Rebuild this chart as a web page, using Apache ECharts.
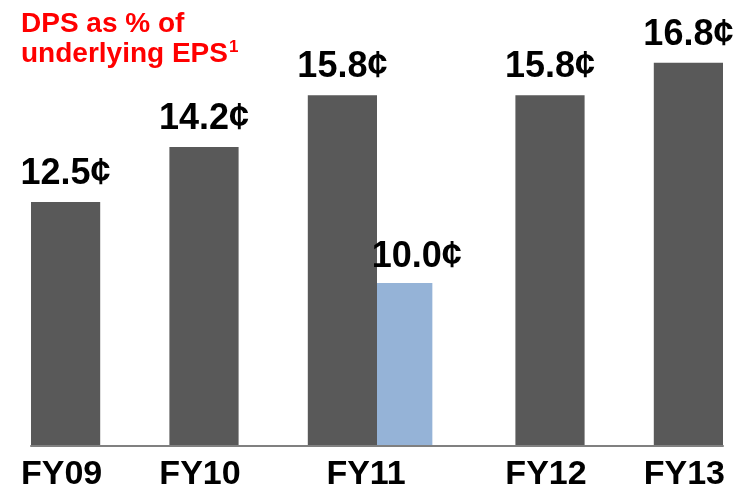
<!DOCTYPE html>
<html>
<head>
<meta charset="utf-8">
<script src="https://cdn.jsdelivr.net/npm/echarts@6/dist/echarts.min.js"></script>
<style>
  html, body { margin: 0; padding: 0; background: #ffffff; }
  #chart { width: 735px; height: 492px; }
</style>
</head>
<body>
<div id="chart"></div>
<script>
// Dividend per share by financial year (cents)
const categories = ['FY09', 'FY10', 'FY11', 'FY12', 'FY13'];
const dps = [12.5, 14.2, 15.8, 15.8, 16.8];
// Additional bar shown beside FY11 only
const extra = [null, null, 10.0, null, null];

// Layout in "slot" units: every bar is one slot wide with one empty slot between groups;
// the additional bar is 0.8 slot wide and sits flush against its neighbour.
const EXTRA_W = 0.8;
const mainPts = [];
const extraPts = [];
const labelPts = [];
let cursor = 0;
categories.forEach((c, i) => {
  const start = cursor;
  mainPts.push([start + 0.5, dps[i]]);
  cursor += 1;
  let end = cursor;
  if (extra[i] != null) {
    extraPts.push([cursor + EXTRA_W / 2, extra[i]]);
    end = cursor + EXTRA_W;
    cursor += 1;
  }
  labelPts.push((start + end) / 2);
  cursor += 1;
});
const slots = cursor - 1;

const gridLeft = 31, gridRight = 12;
const slotPx = (735 - gridLeft - gridRight) / slots;
const FONT = 'Liberation Sans, Arial, sans-serif';

const chart = echarts.init(document.getElementById('chart'), null, { renderer: 'canvas' });

const valueLabel = {
  show: true,
  position: 'top',
  distance: 10,
  fontFamily: FONT,
  fontWeight: 'bold',
  fontSize: 36,
  color: '#000000',
  formatter: p => p.value[1].toFixed(1) + '\u00a2'
};

chart.setOption({
  animation: false,
  backgroundColor: '#ffffff',
  title: {
    left: 16,
    top: 4,
    text: '{a|DPS as % of}\n{a|underlying EPS}{s|1}',
    textStyle: {
      rich: {
        a: { fontFamily: FONT, fontWeight: 'bold', fontSize: 28, lineHeight: 30, color: '#ff0000' },
        s: {
          fontFamily: FONT, fontSize: 17, lineHeight: 30, color: '#ff0000',
          verticalAlign: 'top', padding: [0, 0, 8, 1]
        }
      }
    }
  },
  grid: { left: gridLeft, right: gridRight, top: 24, bottom: 40, containLabel: false },
  xAxis: [
    {
      type: 'value',
      min: 0,
      max: slots,
      offset: 1,
      splitLine: { show: false },
      axisTick: { show: false },
      axisLine: { show: true, lineStyle: { color: '#808080', width: 2 } },
      axisLabel: {
        customValues: labelPts,
        margin: 12,
        padding: [0, 8, 0, 0],
        fontFamily: FONT,
        fontWeight: 'bold',
        fontSize: 34,
        color: '#000000',
        formatter: v => {
          const k = labelPts.findIndex(p => Math.abs(p - v) < 1e-6);
          return k >= 0 ? categories[k] : '';
        }
      }
    },
    {
      // same scale, carries the additional bar so it is not grouped with the main bars
      type: 'value',
      min: 0,
      max: slots,
      show: false
    }
  ],
  yAxis: { type: 'value', min: 5, max: 18, show: false },
  series: [
    {
      type: 'bar',
      xAxisIndex: 0,
      data: mainPts,
      barWidth: slotPx,
      itemStyle: { color: '#595959' },
      label: valueLabel
    },
    {
      type: 'bar',
      xAxisIndex: 1,
      data: extraPts,
      barWidth: slotPx * EXTRA_W,
      itemStyle: { color: '#95b3d7' },
      label: Object.assign({}, valueLabel, { offset: [12, 0], distance: 8 })
    }
  ]
});
</script>
</body>
</html>
